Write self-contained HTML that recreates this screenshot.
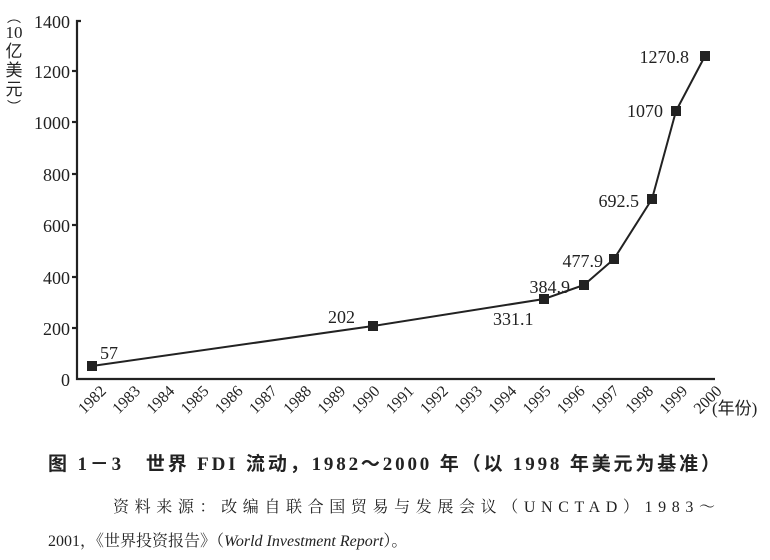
<!DOCTYPE html>
<html><head><meta charset="utf-8"><style>
body{margin:0;background:#fff;}
svg{display:block;}
</style></head><body>
<svg width="770" height="560" viewBox="0 0 770 560" xmlns="http://www.w3.org/2000/svg" font-family="'Liberation Serif','Noto Serif CJK SC',serif" fill="#222">
<g stroke="#222" stroke-width="2.2" fill="none">
<polyline points="81,21 77,21 77,379 715,379"/>
<line x1="72" y1="71" x2="77" y2="71"/><line x1="72" y1="122" x2="77" y2="122"/>
<line x1="72" y1="174" x2="77" y2="174"/><line x1="72" y1="225" x2="77" y2="225"/>
<line x1="72" y1="277" x2="77" y2="277"/><line x1="72" y1="328" x2="77" y2="328"/>
</g>
<g font-size="18" text-anchor="end">
<text x="70" y="28">1400</text><text x="70" y="78">1200</text><text x="70" y="129">1000</text>
<text x="70" y="181">800</text><text x="70" y="232">600</text><text x="70" y="284">400</text>
<text x="70" y="335">200</text><text x="70" y="386">0</text>
</g>
<g font-size="17" font-family="'Liberation Serif','Noto Sans CJK SC',sans-serif" text-anchor="middle">
<text x="14" y="22" font-size="14">︵</text>
<text x="14" y="38">10</text><text x="14" y="57">亿</text><text x="14" y="76">美</text><text x="14" y="95">元</text>
<text x="14" y="112" font-size="14">︶</text>
</g>
<polyline points="92,366 373,326 544,299 584,285 614,259 652,199 676,111 705,56" stroke="#222" stroke-width="2" fill="none"/>
<g fill="#222">
<rect x="87" y="361" width="10" height="10"/><rect x="368" y="321" width="10" height="10"/>
<rect x="539" y="294" width="10" height="10"/><rect x="579" y="280" width="10" height="10"/>
<rect x="609" y="254" width="10" height="10"/><rect x="647" y="194" width="10" height="10"/>
<rect x="671" y="106" width="10" height="10"/><rect x="700" y="51" width="10" height="10"/>
</g>
<g font-size="18">
<text x="100" y="359">57</text>
<text x="328" y="323">202</text>
<text x="493" y="325">331.1</text>
<text x="570" y="293" text-anchor="end">384.9</text>
<text x="603" y="267" text-anchor="end">477.9</text>
<text x="639" y="207" text-anchor="end">692.5</text>
<text x="663" y="117" text-anchor="end">1070</text>
<text x="689" y="63" text-anchor="end">1270.8</text>
</g>
<g font-size="16">
<text transform="translate(107 392) rotate(-45)" text-anchor="end">1982</text>
<text transform="translate(141.2 392) rotate(-45)" text-anchor="end">1983</text>
<text transform="translate(175.4 392) rotate(-45)" text-anchor="end">1984</text>
<text transform="translate(209.6 392) rotate(-45)" text-anchor="end">1985</text>
<text transform="translate(243.8 392) rotate(-45)" text-anchor="end">1986</text>
<text transform="translate(278 392) rotate(-45)" text-anchor="end">1987</text>
<text transform="translate(312.2 392) rotate(-45)" text-anchor="end">1988</text>
<text transform="translate(346.4 392) rotate(-45)" text-anchor="end">1989</text>
<text transform="translate(380.6 392) rotate(-45)" text-anchor="end">1990</text>
<text transform="translate(414.8 392) rotate(-45)" text-anchor="end">1991</text>
<text transform="translate(449 392) rotate(-45)" text-anchor="end">1992</text>
<text transform="translate(483.2 392) rotate(-45)" text-anchor="end">1993</text>
<text transform="translate(517.4 392) rotate(-45)" text-anchor="end">1994</text>
<text transform="translate(551.6 392) rotate(-45)" text-anchor="end">1995</text>
<text transform="translate(585.8 392) rotate(-45)" text-anchor="end">1996</text>
<text transform="translate(620 392) rotate(-45)" text-anchor="end">1997</text>
<text transform="translate(654.2 392) rotate(-45)" text-anchor="end">1998</text>
<text transform="translate(688.4 392) rotate(-45)" text-anchor="end">1999</text>
<text transform="translate(722.6 392) rotate(-45)" text-anchor="end">2000</text>
</g>
<text x="712" y="414" font-size="17" font-family="'Liberation Serif','Noto Sans CJK SC',sans-serif">(年份)</text>
<text x="48" y="470" font-size="19" font-weight="bold" textLength="672" lengthAdjust="spacing" font-family="'Liberation Serif','Noto Sans CJK SC',sans-serif">图 1－3　世界 FDI 流动，1982～2000 年（以 1998 年美元为基准）</text>
<text x="113" y="512" font-size="16" textLength="602" lengthAdjust="spacing" font-family="'Liberation Serif','Noto Serif CJK SC',serif">资料来源：改编自联合国贸易与发展会议（UNCTAD）1983～</text>
<text x="48" y="546" font-size="16" font-family="'Liberation Serif','Noto Serif CJK SC',serif">2001，《世界投资报告》（<tspan font-style="italic">World Investment Report</tspan>）。</text>
</svg>
</body></html>
